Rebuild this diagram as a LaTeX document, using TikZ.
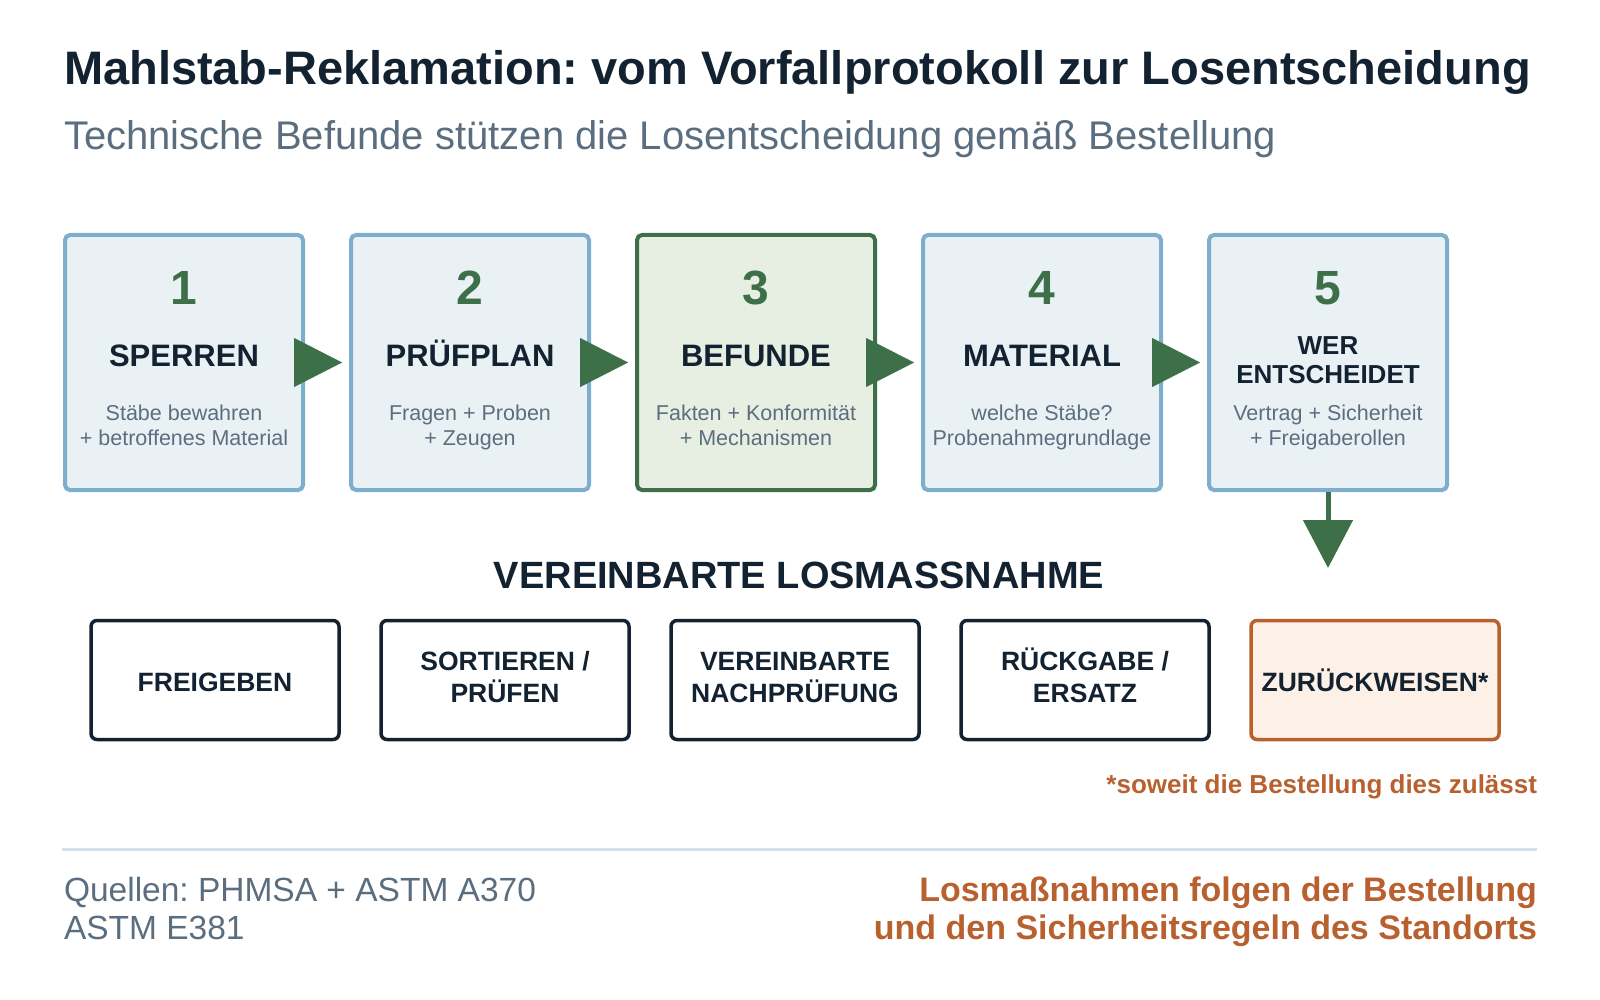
\documentclass[tikz,border=0pt]{standalone}
\usepackage{fontspec}
\setmainfont{Liberation Sans}
\usetikzlibrary{arrows.meta}
\definecolor{ink}{HTML}{132231}
\definecolor{muted}{HTML}{5B6E80}
\definecolor{leaf}{HTML}{3D7049}
\definecolor{skyline}{HTML}{7EAECD}
\definecolor{skyfill}{HTML}{E9F1F5}
\definecolor{leaffill}{HTML}{E7EFE2}
\definecolor{rust}{HTML}{B9602F}
\definecolor{rustfill}{HTML}{FDF0E7}
\definecolor{rulecol}{HTML}{D6E0E8}
\frenchspacing
\begin{document}
\begin{tikzpicture}[x=1pt,y=-1pt,
  txt/.style={inner sep=0pt, outer sep=0pt},
  stepbox/.style={draw=skyline, fill=skyfill, line width=4pt, rounded corners=5pt, minimum width=238pt, minimum height=255pt, inner sep=0pt},
  keybox/.style={stepbox, draw=leaf, fill=leaffill},
  numtxt/.style={txt, anchor=base, text=leaf, font=\fontsize{48}{58}\selectfont\bfseries},
  steptitle/.style={txt, anchor=base, text=ink, font=\fontsize{31}{37}\selectfont\bfseries},
  steptitlesmall/.style={txt, anchor=base, text=ink, font=\fontsize{26}{31}\selectfont\bfseries},
  stepsub/.style={txt, anchor=base, text=muted, font=\fontsize{21.5}{26}\selectfont},
  actbox/.style={draw=ink, fill=white, line width=3.5pt, rounded corners=6pt, minimum width=248pt, minimum height=119pt, inner sep=0pt},
  rejbox/.style={actbox, draw=rust, fill=rustfill},
  acttxt/.style={txt, anchor=base, text=ink, font=\fontsize{26.5}{32}\selectfont\bfseries},
  flowarrow/.style={leaf, line width=0.1pt, -{Triangle[length=48pt,width=49pt]}, shorten >=7pt},
  downarrow/.style={leaf, line width=5pt, -{Triangle[length=48pt,width=49pt]}}
]
\useasboundingbox (0,0) rectangle (1600,1000);

% header
\node[txt, anchor=base west, text=ink, font=\fontsize{47}{56}\selectfont\bfseries] (title) at (64,85) {Mahlstab-Reklamation: vom Vorfallprotokoll zur Losentscheidung};
\node[txt, anchor=base west, text=muted, font=\fontsize{40}{48}\selectfont] (subtitle) at (64,150) {Technische Befunde stützen die Losentscheidung gemäß Bestellung};

% step boxes
\node[stepbox] (b1) at (184,362.5) {};
\node[stepbox] (b2) at (470,362.5) {};
\node[keybox]  (b3) at (756,362.5) {};
\node[stepbox] (b4) at (1042,362.5) {};
\node[stepbox] (b5) at (1328,362.5) {};

\node[numtxt] (n1) at (184,305) {1};
\node[numtxt] (n2) at (470,305) {2};
\node[numtxt] (n3) at (756,305) {3};
\node[numtxt] (n4) at (1042,305) {4};
\node[numtxt] (n5) at (1328,305) {5};

\node[steptitle] (t1) at (184,366) {SPERREN};
\node[steptitle] (t2) at (470,366) {PRÜFPLAN};
\node[steptitle] (t3) at (756,366) {BEFUNDE};
\node[steptitle] (t4) at (1042,366) {MATERIAL};
\node[steptitlesmall] (t5a) at (1328,354) {WER};
\node[steptitlesmall] (t5b) at (1328,383) {ENTSCHEIDET};

\node[stepsub] (s1a) at (184,420) {Stäbe bewahren};
\node[stepsub] (s1b) at (184,445) {+ betroffenes Material};
\node[stepsub] (s2a) at (470,420) {Fragen + Proben};
\node[stepsub] (s2b) at (470,445) {+ Zeugen};
\node[stepsub] (s3a) at (756,420) {Fakten + Konformität};
\node[stepsub] (s3b) at (756,445) {+ Mechanismen};
\node[stepsub] (s4a) at (1042,420) {welche Stäbe?};
\node[stepsub] (s4b) at (1042,445) {Probenahmegrundlage};
\node[stepsub] (s5a) at (1328,420) {Vertrag + Sicherheit};
\node[stepsub] (s5b) at (1328,445) {+ Freigaberollen};

% flow arrows
\draw[flowarrow] (b1.east) -- (b2.west);
\draw[flowarrow] (b2.east) -- (b3.west);
\draw[flowarrow] (b3.east) -- (b4.west);
\draw[flowarrow] (b4.east) -- (b5.west);
\coordinate (dn) at (1328,568);
\draw[downarrow] (b5.south) -- (dn);

% actions
\node[txt, anchor=base, text=ink, font=\fontsize{38}{45}\selectfont\bfseries] (heading) at (799,588) {VEREINBARTE LOSMASSNAHME};

\node[actbox] (a1) at (215,680) {};
\node[actbox] (a2) at (505,680) {};
\node[actbox] (a3) at (795,680) {};
\node[actbox] (a4) at (1085,680) {};
\node[rejbox] (a5) at (1375,680) {};

\node[acttxt] (a1t) at (215,691) {FREIGEBEN};
\node[acttxt] (a2t) at (505,670) {SORTIEREN /};
\node[acttxt] (a2u) at (505,702) {PRÜFEN};
\node[acttxt] (a3t) at (795,670) {VEREINBARTE};
\node[acttxt] (a3u) at (795,702) {NACHPRÜFUNG};
\node[acttxt] (a4t) at (1085,670) {RÜCKGABE /};
\node[acttxt] (a4u) at (1085,702) {ERSATZ};
\node[acttxt] (a5t) at (1375,691) {ZURÜCKWEISEN*};

\node[txt, anchor=base east, text=rust, font=\fontsize{26}{31}\selectfont\bfseries] (foot) at (1537,793) {*soweit die Bestellung dies zulässt};

% footer
\coordinate (rl) at (62,849);
\coordinate (rr) at (1537,849);
\draw[rulecol, line width=3pt] (rl) -- (rr);
\node[txt, anchor=base west, text=muted, font=\fontsize{33.5}{40}\selectfont] (src1) at (64,901) {Quellen: PHMSA + ASTM A370};
\node[txt, anchor=base west, text=muted, font=\fontsize{33.5}{40}\selectfont] (src2) at (64,939) {ASTM E381};
\node[txt, anchor=base east, text=rust, font=\fontsize{34}{40}\selectfont\bfseries] (note1) at (1537,901) {Losmaßnahmen folgen der Bestellung};
\node[txt, anchor=base east, text=rust, font=\fontsize{34}{40}\selectfont\bfseries] (note2) at (1537,939) {und den Sicherheitsregeln des Standorts};
\end{tikzpicture}
\end{document}
